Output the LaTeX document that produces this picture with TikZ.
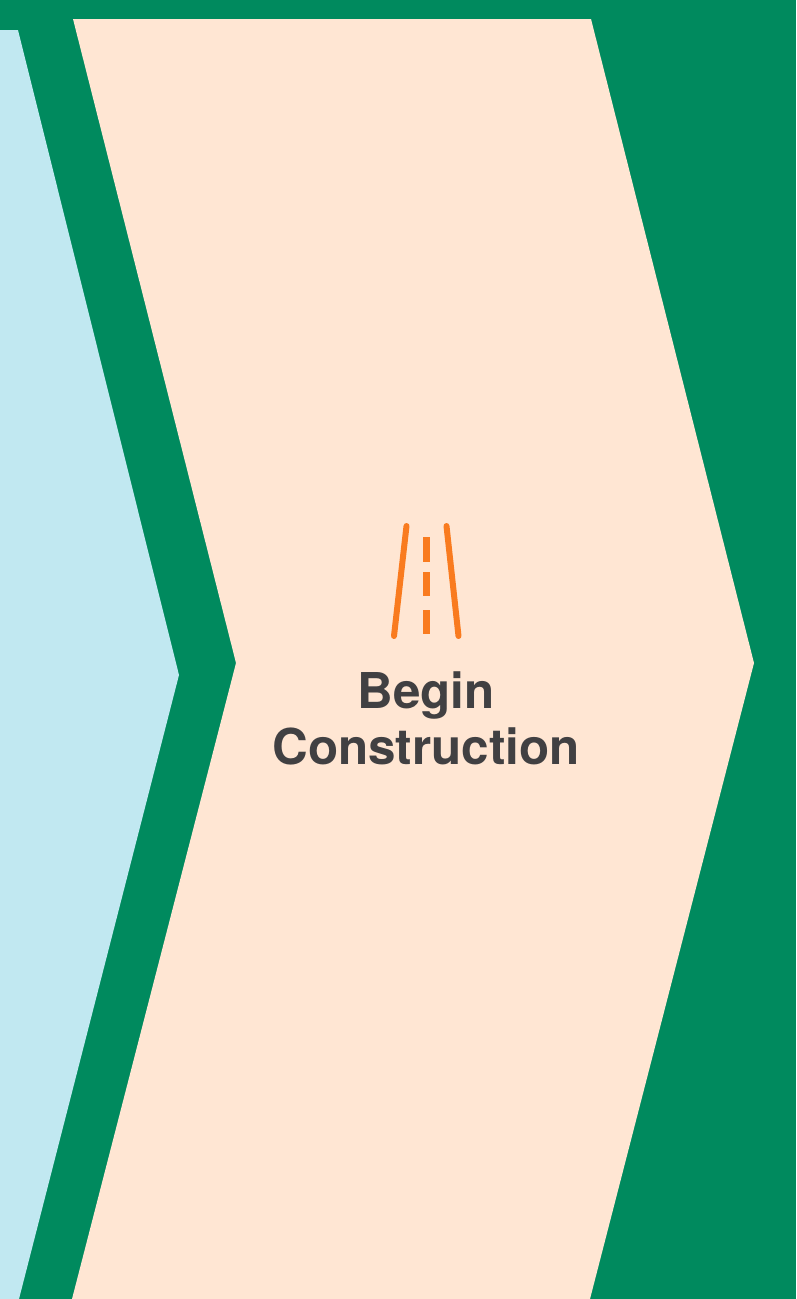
\documentclass[tikz,border=0pt]{standalone}
\usepackage{fontspec}
\setmainfont{TeX Gyre Heros}
\definecolor{verde}{HTML}{008A5E}
\definecolor{azul}{HTML}{C1E8F1}
\definecolor{pessego}{HTML}{FFE6D3}
\definecolor{laranja}{HTML}{F97B1F}
\definecolor{texto}{HTML}{414042}
\tikzset{
  faixa/.style={line width=.12cm,laranja,line cap=round},
  traco/.style={line width=.125cm,laranja},
  rotulo/.style={align=center,text=texto,font=\fontsize{28.1}{31.9}\selectfont\bfseries}
}
\begin{document}
\begin{tikzpicture}[x=.02cm,y=-.02cm]
\useasboundingbox (0,0) rectangle (796,1299);
\fill[verde] (0,0) rectangle (796,1299);
\fill[azul] (0,30)--(18,30)--(179,675)--(19,1299)--(0,1299)--cycle;
\fill[pessego] (73,19)--(591,19)--(754,663)--(590,1299)--(72,1299)--(236,663)--cycle;
\draw[faixa] (406.5,526)--(394,636);
\draw[faixa] (446.5,526)--(458.5,636);
\draw[traco] (426.5,537)--(426.5,562);
\draw[traco] (426.5,572)--(426.5,596);
\draw[traco] (426.5,610)--(426.5,634);
\node[rotulo] (titulo) at (426,718){Begin\\Construction};
\end{tikzpicture}
\end{document}
